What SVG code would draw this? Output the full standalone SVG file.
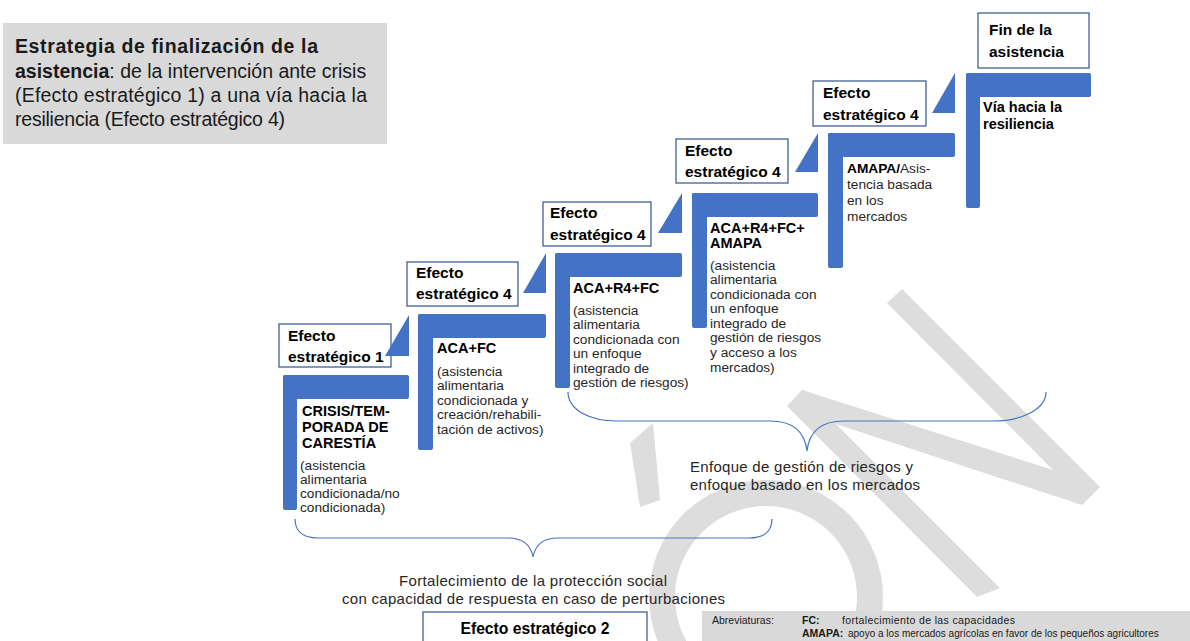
<svg xmlns="http://www.w3.org/2000/svg" width="1190" height="641" viewBox="0 0 1190 641">
<style>
.bg{fill:#ffffff}
.wm{fill:#dddddd}
.bar{fill:#4472c4}
.lbl{fill:#ffffff;stroke:#2f528f;stroke-width:1.2}
.brace{fill:none;stroke:#4472c4;stroke-width:1.2}
.lt{font-family:"Liberation Sans",Arial,sans-serif;font-weight:bold;font-size:15.5px;fill:#000}
.hd{font-family:"Liberation Sans",Arial,sans-serif;font-weight:bold;font-size:14.5px;fill:#000}
.bd{font-family:"Liberation Sans",Arial,sans-serif;font-size:13.7px;fill:#262626}
.tt{font-family:"Liberation Sans",Arial,sans-serif;font-size:19.5px;fill:#1a1a1a}
.ft{font-family:"Liberation Sans",Arial,sans-serif;font-size:15px;fill:#262626}
.ab{font-family:"Liberation Sans",Arial,sans-serif;font-size:10.5px;fill:#1a1a1a}
.b{font-weight:bold}
</style>
<rect class="bg" x="0" y="0" width="1190" height="641"/>

<g id="watermark">
<polygon class="wm" points="902,289 1100,487 1082,505 836,424 1000,588 977,597 787,406 802,390 1053,470 887,303"/>
<polygon class="wm" points="630,443 653,423 660,500 640,507"/>
<circle cx="766" cy="597" r="104" fill="none" stroke="#dddddd" stroke-width="26"/>
</g>

<g id="title">
<rect x="3" y="23" width="384" height="121" fill="#d9d9d9"/>
<text class="tt b" x="15" y="53" textLength="303" lengthAdjust="spacing">Estrategia de finalización de la</text>
<text class="tt" x="15" y="78"><tspan class="b">asistencia</tspan>: de la intervención ante crisis</text>
<text class="tt" x="15" y="102" textLength="352" lengthAdjust="spacing">(Efecto estratégico 1) a una vía hacia la</text>
<text class="tt" x="15" y="126" textLength="270" lengthAdjust="spacing">resiliencia (Efecto estratégico 4)</text>
</g>

<g id="step1">
<rect class="bar" x="283" y="375" width="126" height="24" rx="2"/>
<rect class="bar" x="283" y="375" width="14" height="135" rx="2"/>
<rect class="lbl" x="279" y="324" width="112" height="43"/>
<polygon class="bar" points="409,315 409,356 385,356"/>
<text class="lt" x="288" y="341">Efecto</text>
<text class="lt" x="288" y="362">estratégico 1</text>
<text class="hd" x="302" y="416">CRISIS/TEM-</text>
<text class="hd" x="302" y="432">PORADA  DE</text>
<text class="hd" x="302" y="448">CARESTÍA</text>
<text class="bd" x="300" y="470">(asistencia</text>
<text class="bd" x="300" y="484">alimentaria</text>
<text class="bd" x="300" y="498">condicionada/no</text>
<text class="bd" x="300" y="512">condicionada)</text>
</g>

<g id="step2">
<rect class="bar" x="418" y="314" width="128" height="24" rx="2"/>
<rect class="bar" x="418" y="314" width="15" height="136" rx="2"/>
<rect class="lbl" x="407" y="262" width="111" height="44"/>
<polygon class="bar" points="546,253 546,293 523,293"/>
<text class="lt" x="416" y="278">Efecto</text>
<text class="lt" x="416" y="299">estratégico 4</text>
<text class="hd" x="437" y="353">ACA+FC</text>
<text class="bd" x="437" y="376">(asistencia</text>
<text class="bd" x="437" y="390">alimentaria</text>
<text class="bd" x="437" y="405">condicionada y</text>
<text class="bd" x="437" y="419">creación/rehabili-</text>
<text class="bd" x="437" y="434">tación de activos)</text>
</g>

<g id="step3">
<rect class="bar" x="555" y="253" width="127" height="24" rx="2"/>
<rect class="bar" x="555" y="253" width="15" height="135" rx="2"/>
<rect class="lbl" x="543" y="202" width="108" height="44"/>
<polygon class="bar" points="682,193 682,233 658,233"/>
<text class="lt" x="550" y="218">Efecto</text>
<text class="lt" x="550" y="240">estratégico 4</text>
<text class="hd" x="573" y="293">ACA+R4+FC</text>
<text class="bd" x="573" y="315">(asistencia</text>
<text class="bd" x="573" y="329">alimentaria</text>
<text class="bd" x="573" y="344">condicionada con</text>
<text class="bd" x="573" y="358">un enfoque</text>
<text class="bd" x="573" y="373">integrado de</text>
<text class="bd" x="573" y="387">gestión de riesgos)</text>
</g>

<g id="step4">
<rect class="bar" x="692" y="193" width="126" height="24" rx="2"/>
<rect class="bar" x="692" y="193" width="15" height="135" rx="2"/>
<rect class="lbl" x="676" y="139" width="112" height="44"/>
<polygon class="bar" points="818,133 818,172 795,172"/>
<text class="lt" x="685" y="156">Efecto</text>
<text class="lt" x="685" y="177">estratégico 4</text>
<text class="hd" x="710" y="233">ACA+R4+FC+</text>
<text class="hd" x="710" y="248">AMAPA</text>
<text class="bd" x="710" y="270">(asistencia</text>
<text class="bd" x="710" y="284">alimentaria</text>
<text class="bd" x="710" y="299">condicionada con</text>
<text class="bd" x="710" y="313">un enfoque</text>
<text class="bd" x="710" y="328">integrado de</text>
<text class="bd" x="710" y="342">gestión de riesgos</text>
<text class="bd" x="710" y="357">y acceso a los</text>
<text class="bd" x="710" y="372">mercados)</text>
</g>

<g id="step5">
<rect class="bar" x="828" y="133" width="127" height="24" rx="2"/>
<rect class="bar" x="828" y="133" width="15" height="135" rx="2"/>
<rect class="lbl" x="813" y="81" width="113" height="45"/>
<polygon class="bar" points="955,73 955,113 932,113"/>
<text class="lt" x="823" y="98">Efecto</text>
<text class="lt" x="823" y="120">estratégico 4</text>
<text class="bd" x="847" y="173"><tspan class="b" fill="#000">AMAPA/</tspan>Asis-</text>
<text class="bd" x="847" y="189">tencia basada</text>
<text class="bd" x="847" y="205">en los</text>
<text class="bd" x="847" y="221">mercados</text>
</g>

<g id="step6">
<rect class="bar" x="966" y="73" width="125" height="24" rx="2"/>
<rect class="bar" x="966" y="73" width="14" height="135" rx="2"/>
<rect class="lbl" x="978" y="13" width="111" height="55"/>
<text class="lt" x="989" y="35">Fin de la</text>
<text class="lt" x="989" y="57">asistencia</text>
<text class="hd" x="983" y="112">Vía hacia la</text>
<text class="hd" x="983" y="129">resiliencia</text>
</g>

<g id="connectors">
<path class="brace" d="M295,519 C295,531 303,538 318,538 L508,538 C524,538 531,546 533,557 C535,546 542,538 558,538 L749,538 C764,538 772,531 772,519"/>
<path class="brace" d="M568,392 C568,410 590,421 617,421 L770,421 C795,421 805,433 807,451 C809,433 819,421 844,421 L993,421 C1020,421 1046,410 1046,392"/>
</g>

<g id="risk-label">
<text class="ft" x="690" y="472" textLength="223" lengthAdjust="spacing">Enfoque de gestión de riesgos y</text>
<text class="ft" x="690" y="490" textLength="230" lengthAdjust="spacing">enfoque basado en los mercados</text>
</g>

<g id="social-label">
<text class="ft" x="399" y="586" textLength="268" lengthAdjust="spacing">Fortalecimiento de la protección social</text>
<text class="ft" x="342" y="604" textLength="383" lengthAdjust="spacing">con capacidad de respuesta en caso de perturbaciones</text>
</g>

<g id="so2">
<rect x="423" y="612" width="224" height="40" fill="#ffffff" stroke="#2f528f" stroke-width="1.2"/>
<text class="lt" x="535" y="634" text-anchor="middle" style="font-size:15.7px">Efecto estratégico 2</text>
</g>

<g id="abbreviations">
<rect x="702" y="611" width="500" height="40" fill="#d9d9d9"/>
<text class="ab" x="712" y="624">Abreviaturas:</text>
<text class="ab b" x="802" y="624">FC:</text>
<text class="ab" x="842" y="624" textLength="173" lengthAdjust="spacing">fortalecimiento de las capacidades</text>
<text class="ab b" x="802" y="637">AMAPA:</text>
<text class="ab" x="848" y="637" style="font-size:10px">apoyo a los mercados agrícolas en favor de los pequeños agricultores</text>
</g>
</svg>
